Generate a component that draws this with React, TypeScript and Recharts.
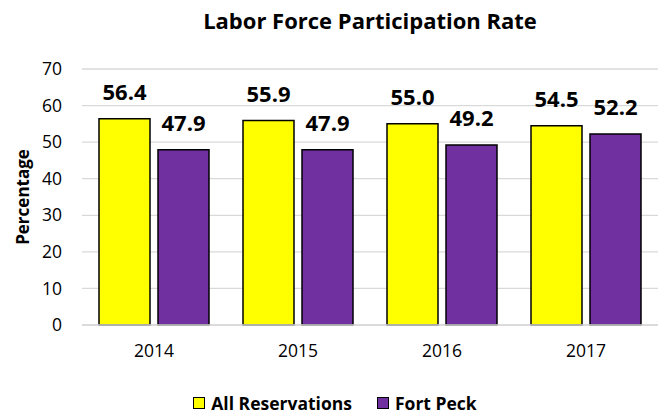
import React from 'react';
import { BarChart, Bar, XAxis, YAxis, CartesianGrid, LabelList } from 'recharts';

const years = ['2014', '2015', '2016', '2017'];
const allReservations = [56.4, 55.9, 55.0, 54.5];
const fortPeck = [47.9, 47.9, 49.2, 52.2];
const yTicks = [0, 10, 20, 30, 40, 50, 60, 70];
const seriesNames = ['All Reservations', 'Fort Peck'];
const seriesColors = ['#FFFF00', '#7030A0'];

const data = years.map((y, i) => ({ year: y, all: allReservations[i], fort: fortPeck[i] }));

const FONT = '"Open Sans", sans-serif';

const fmt = (v: any) => Number(v).toFixed(1);

export default function App() {
  return (
    <div style={{ position: 'absolute', left: 0, top: 0, width: 662, height: 413, background: '#fff', fontFamily: FONT, overflow: 'hidden' }}>
      <div style={{ position: 'absolute', left: 0, width: 740, top: 5, textAlign: 'center', fontSize: 22, fontWeight: 700, color: '#000', lineHeight: '30px' }}>
        Labor Force Participation Rate
      </div>
      <BarChart
        width={662}
        height={413}
        data={data}
        margin={{ top: 69, right: 4, bottom: 0, left: 0 }}
        barCategoryGap={17}
        barGap={8}
      >
        <CartesianGrid vertical={false} stroke="#D9D9D9" strokeWidth={1.3} />
        <XAxis
          dataKey="year"
          height={88}
          axisLine={{ stroke: '#D9D9D9', strokeWidth: 1.3 }}
          tickLine={false}
          tickSize={8}
          tickMargin={12}
          tick={{ fontSize: 17.5, fill: '#000', fontFamily: FONT }}
        />
        <YAxis
          width={82}
          domain={[0, 70]}
          ticks={yTicks}
          axisLine={false}
          tickLine={false}
          tickSize={10}
          tickMargin={10}
          tick={{ fontSize: 17.5, fill: '#000', fontFamily: FONT }}
          label={{
            content: () => (
              <text x={22} y={197} transform="rotate(-90 22 197)" textAnchor="middle" dominantBaseline="central" fontSize={17} fontWeight={700} fill="#000" fontFamily={FONT}>
                Percentage
              </text>
            ),
          }}
        />
        <Bar dataKey="all" name={seriesNames[0]} fill={seriesColors[0]} stroke="#000" strokeWidth={1.5} isAnimationActive={false}>
          <LabelList dataKey="all" position="top" offset={19} formatter={fmt} style={{ fontSize: 22, fontWeight: 700, fill: '#000', fontFamily: FONT }} />
        </Bar>
        <Bar dataKey="fort" name={seriesNames[1]} fill={seriesColors[1]} stroke="#000" strokeWidth={1.5} isAnimationActive={false}>
          <LabelList dataKey="fort" position="top" offset={19} formatter={fmt} style={{ fontSize: 22, fontWeight: 700, fill: '#000', fontFamily: FONT }} />
        </Bar>
      </BarChart>
      <div style={{ position: 'absolute', left: 0, width: 670, top: 394, display: 'flex', justifyContent: 'center', alignItems: 'center', fontSize: 17.5, fontWeight: 700, color: '#000', lineHeight: '18px', height: 18 }}>
        {seriesNames.map((n, i) => (
          <div key={n} style={{ display: 'flex', alignItems: 'center', marginRight: i === 0 ? 25 : 0 }}>
            <div style={{ width: 10, height: 10, background: seriesColors[i], border: '1.5px solid #000', marginRight: 6 }} />
            <span>{n}</span>
          </div>
        ))}
      </div>
    </div>
  );
}
